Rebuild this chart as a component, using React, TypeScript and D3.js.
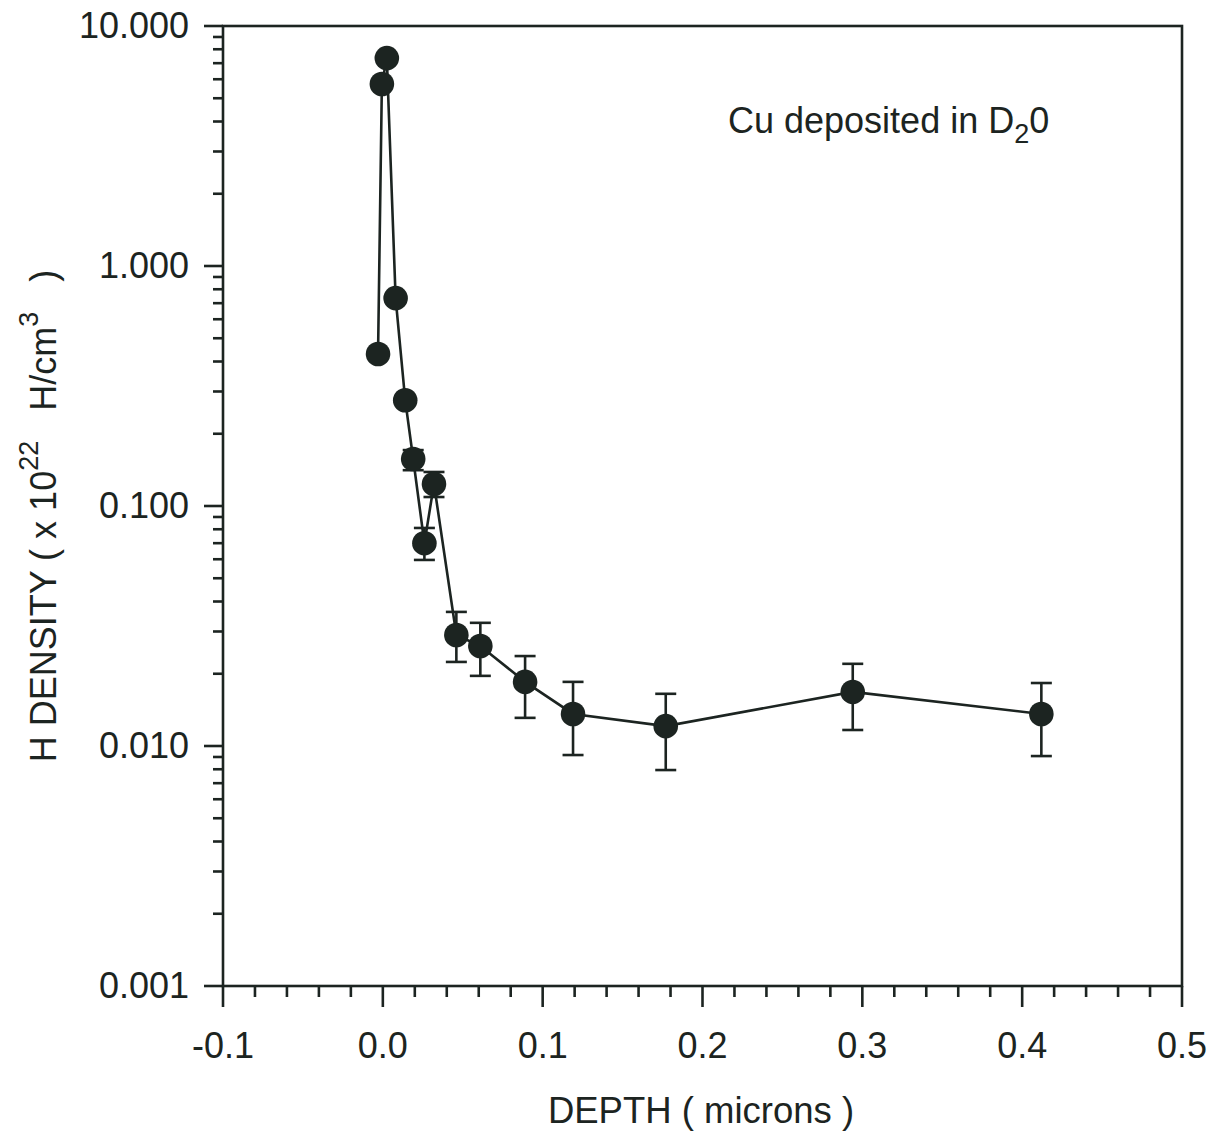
import React from "react";
import * as d3 from "d3";

const depth = [-0.003, -0.0006, 0.0025, 0.008, 0.014, 0.019, 0.026, 0.032, 0.046, 0.061, 0.089, 0.119, 0.177, 0.294, 0.412];
const density = [0.43, 5.73, 7.35, 0.735, 0.276, 0.157, 0.07, 0.1235, 0.029, 0.0261, 0.0185, 0.0136, 0.0121, 0.0168, 0.0136];
const errHigh = [null, null, null, null, null, 0.171, 0.081, 0.1386, 0.0362, 0.0326, 0.0237, 0.0185, 0.0165, 0.022, 0.0183];
const errLow = [null, null, null, null, null, 0.141, 0.0596, 0.109, 0.0224, 0.0196, 0.0131, 0.00917, 0.00794, 0.01166, 0.00908];
const xTicks = [-0.1, 0.0, 0.1, 0.2, 0.3, 0.4, 0.5];
const yTicks = [10, 1, 0.1, 0.01, 0.001];
const yTickLabels = ["10.000", "1.000", "0.100", "0.010", "0.001"];

const W = 1214, H = 1137;
const L = 223, R = 1182, T = 26, B = 986;
const FONT = "Liberation Sans, Arial, sans-serif";
const INK = "#1c2421";

export default function App() {
  const x = d3.scaleLinear().domain([-0.1, 0.5]).range([L, R]);
  const y = d3.scaleLog().domain([0.001, 10]).range([B, T]);
  const pts = depth.map((d, i) => [x(d), y(density[i])] as [number, number]);
  const line = d3.line()(pts) || "";
  const xMinor = d3.range(-0.1, 0.5001, 0.02).map((v) => +v.toFixed(3)).filter((v) => !xTicks.some((t) => Math.abs(t - v) < 1e-6));
  const yMinor: number[] = [];
  for (let e = -3; e < 1; e++) for (let k = 2; k <= 9; k++) yMinor.push(k * Math.pow(10, e));
  const fs = 36;
  const sw = 2.6;
  return (
    <svg width={W} height={H} style={{ position: "absolute", left: 0, top: 0, background: "#fff" }} fontFamily={FONT}>
      <rect x={0} y={0} width={W} height={H} fill="#fff" />
      {/* frame */}
      <rect x={L} y={T} width={R - L} height={B - T} fill="none" stroke={INK} strokeWidth={sw} />
      {/* x ticks */}
      {xTicks.map((t) => (
        <g key={"xt" + t}>
          <line x1={x(t)} x2={x(t)} y1={B} y2={B + 21} stroke={INK} strokeWidth={sw} />
          <text x={x(t)} y={B + 72} textAnchor="middle" fontSize={fs} fill={INK}>{t.toFixed(1)}</text>
        </g>
      ))}
      {xMinor.map((t) => (
        <line key={"xm" + t} x1={x(t)} x2={x(t)} y1={B} y2={B + 11} stroke={INK} strokeWidth={sw} />
      ))}
      {/* y ticks */}
      {yTicks.map((t, i) => (
        <g key={"yt" + t}>
          <line x1={L - 19} x2={L} y1={y(t)} y2={y(t)} stroke={INK} strokeWidth={sw} />
          <text x={189} y={y(t) + 12} textAnchor="end" fontSize={fs} fill={INK}>{yTickLabels[i]}</text>
        </g>
      ))}
      {yMinor.map((t) => (
        <line key={"ym" + t} x1={L - 10} x2={L} y1={y(t)} y2={y(t)} stroke={INK} strokeWidth={sw} />
      ))}
      {/* line */}
      <path d={line} fill="none" stroke={INK} strokeWidth={2.6} />
      {/* error bars */}
      {depth.map((d, i) =>
        errHigh[i] != null ? (
          <g key={"e" + i} stroke={INK} strokeWidth={2.6}>
            <line x1={x(d)} x2={x(d)} y1={y(errHigh[i] as number)} y2={y(errLow[i] as number)} />
            <line x1={x(d) - 10.5} x2={x(d) + 10.5} y1={y(errHigh[i] as number)} y2={y(errHigh[i] as number)} />
            <line x1={x(d) - 10.5} x2={x(d) + 10.5} y1={y(errLow[i] as number)} y2={y(errLow[i] as number)} />
          </g>
        ) : null
      )}
      {/* markers */}
      {pts.map((p, i) => (
        <circle key={"c" + i} cx={p[0]} cy={p[1]} r={12.3} fill={INK} />
      ))}
      {/* annotation */}
      <text x={728} y={133} fontSize={fs} fill={INK}>
        Cu deposited in D<tspan fontSize={27} dy={10}>2</tspan><tspan dy={-10}>0</tspan>
      </text>
      {/* x label */}
      <text x={701} y={1123} textAnchor="middle" fontSize={36.5} fill={INK}>DEPTH ( microns )</text>
      {/* y label */}
      <text transform="translate(56,516) rotate(-90)" textAnchor="middle" fontSize={fs} fill={INK} xmlSpace="preserve">
        H DENSITY ( x 10<tspan fontSize={27} dy={-18}>22</tspan><tspan dy={18}>{"   H/cm"}</tspan><tspan fontSize={27} dy={-18}>3</tspan><tspan dy={18}>{"   )"}</tspan>
      </text>
    </svg>
  );
}
